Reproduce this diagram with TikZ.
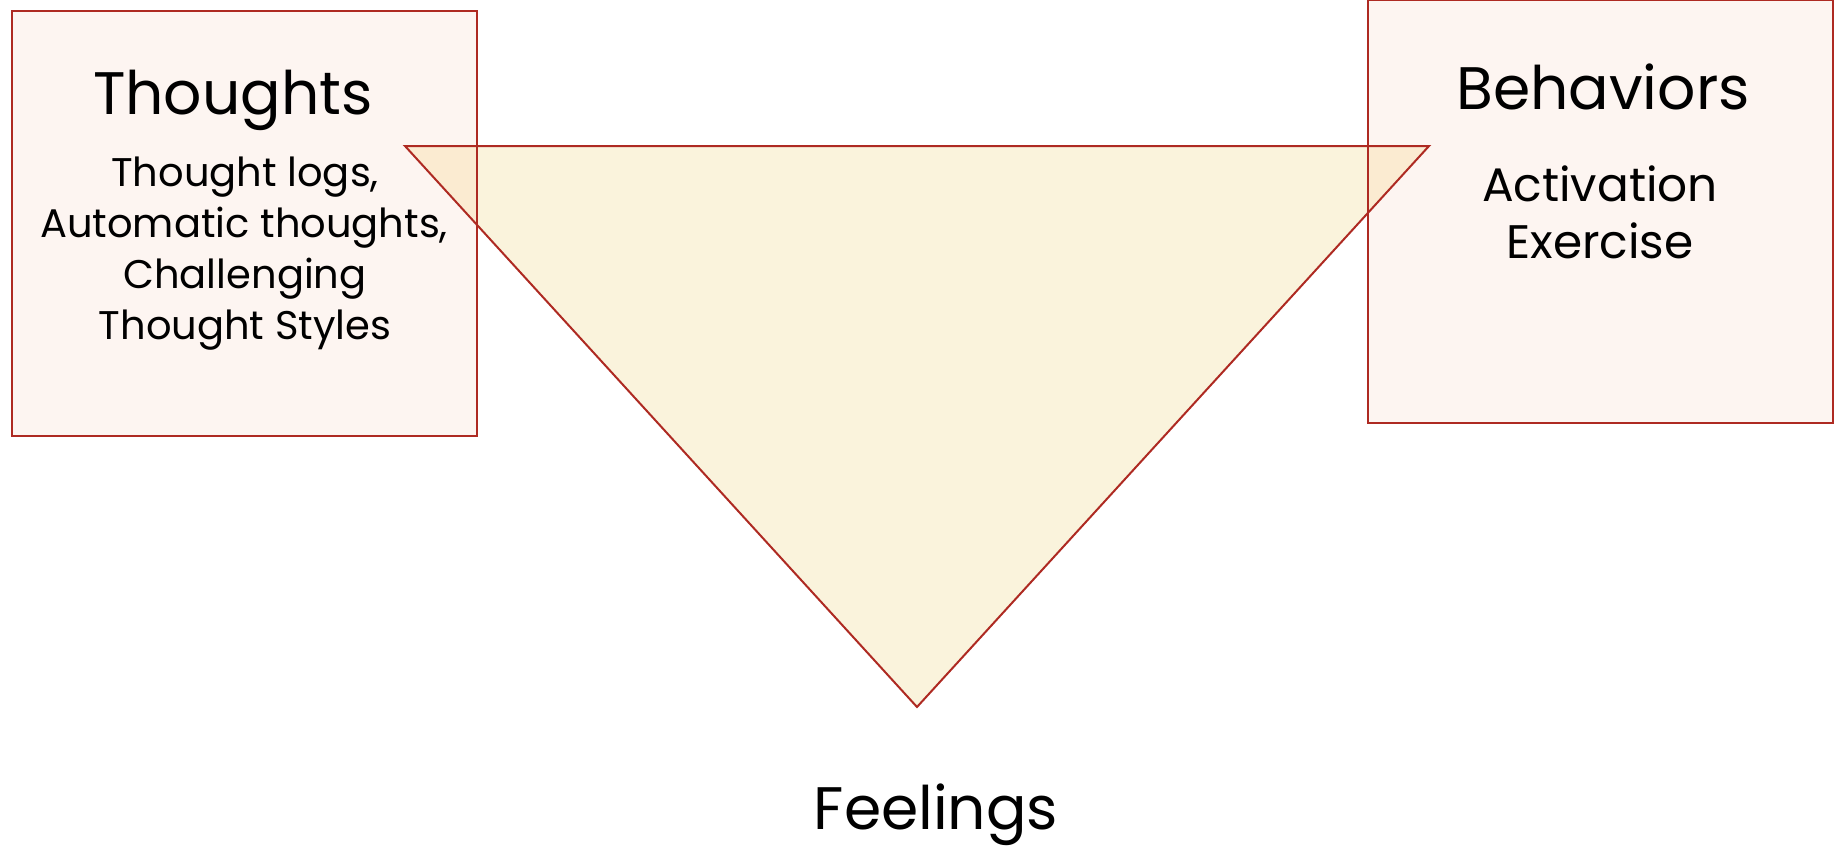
\documentclass[tikz,border=0pt]{standalone}
\usepackage{fontspec}
\setmainfont{Poppins}
\definecolor{edgered}{HTML}{AE2A22}
\definecolor{boxfill}{HTML}{FDF5F1}
\definecolor{trifill}{HTML}{FAF3DC}
\definecolor{overfill}{HTML}{FBEBD1}
\tikzset{
  panel/.style={draw=edgered, line width=2pt, fill=boxfill, rectangle, inner sep=0pt},
  title/.style={anchor=base, inner sep=0pt, font=\fontsize{60}{64}\selectfont},
  subtxt/.style={anchor=base, inner sep=0pt, font=\fontsize{40}{44}\selectfont},
  subtxtb/.style={anchor=base, inner sep=0pt, font=\fontsize{47}{50}\selectfont},
}
\begin{document}
\begin{tikzpicture}[x=1pt,y=-1pt]
\useasboundingbox (0,0) rectangle (1840,851);
% boxes (fill)
\fill[boxfill] (12,11) rectangle (477,436);
\fill[boxfill] (1368,0.5) rectangle (1833,423);
% triangle
\coordinate (tl) at (405,146);
\coordinate (tr) at (1429,146);
\coordinate (tb) at (917,707);
\fill[trifill] (tl) -- (tr) -- (tb) -- cycle;
\begin{scope}
  \clip (12,11) rectangle (477,436);
  \fill[overfill] (tl) -- (tr) -- (tb) -- cycle;
\end{scope}
\begin{scope}
  \clip (1368,0.5) rectangle (1833,423);
  \fill[overfill] (tl) -- (tr) -- (tb) -- cycle;
\end{scope}
% box borders as named nodes
\node[panel, fill=none, minimum width=465pt, minimum height=425pt] (thoughtsbox) at (244.5,223.5) {};
\node[panel, fill=none, minimum width=465pt, minimum height=422.5pt] (behbox) at (1600.5,211.75) {};
\draw[edgered, line width=2pt, line join=miter] (tl) -- (tr) -- (tb) -- cycle;
% texts
\node[title] (thoughts) at (233,114) {Thoughts};
\node[subtxt] (t1) at (245,186) {Thought logs,};
\node[subtxt] (t2) at (244,237) {Automatic thoughts,};
\node[subtxt] (t3) at (245,288) {Challenging};
\node[subtxt] (t4) at (245,339) {Thought Styles};
\node[title] (behaviors) at (1603,110) {Behaviors};
\node[subtxtb] (b1) at (1600,201) {Activation};
\node[subtxtb] (b2) at (1600,258) {Exercise};
\node[title] (feelings) at (936,829) {Feelings};
\end{tikzpicture}
\end{document}
